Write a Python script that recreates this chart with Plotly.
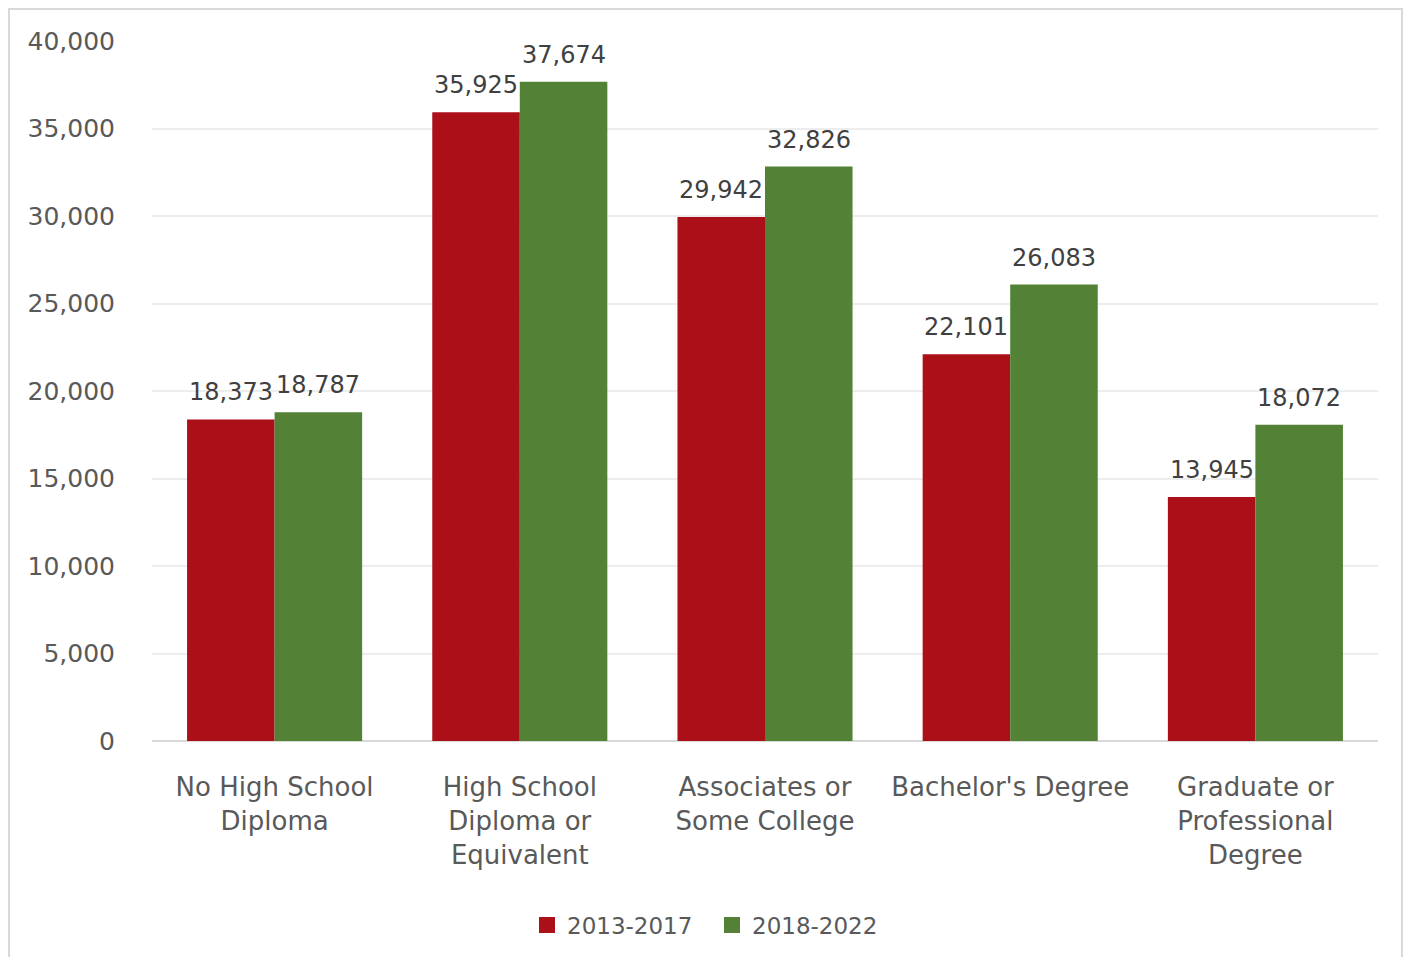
import plotly.graph_objects as go

categories = ["No High School<br>Diploma", "High School<br>Diploma or<br>Equivalent",
              "Associates or<br>Some College", "Bachelor's Degree",
              "Graduate or<br>Professional<br>Degree"]
series_names = ["2013-2017", "2018-2022"]
values_2013_2017 = [18373, 35925, 29942, 22101, 13945]
values_2018_2022 = [18787, 37674, 32826, 26083, 18072]
colors = ["#AB0F18", "#538135"]

FONT = "DejaVu Sans, Open Sans, sans-serif"

# page-pixel layout (body has 8px margin)
OFF = 8
W, H = 1412 - 2 * OFF, 965 - 2 * OFF
L = 152 - OFF
T = 41 - OFF
R = W - (1378 - OFF)
B = H - (742 - OFF)
pw, ph = W - L - R, H - T - B

fig = go.Figure()
annotations = []
bar_off = pw / len(categories) * (1 - 0.286) / 4
for i, (name, vals, col) in enumerate(zip(series_names, [values_2013_2017, values_2018_2022], colors)):
    fig.add_trace(go.Bar(
        x=categories, y=vals, name=name, marker_color=col, marker_line_width=0,
        showlegend=False,
    ))
    for c, v in zip(categories, vals):
        annotations.append(dict(
            x=c, y=v, xref="x", yref="y", text=f"{v:,}", showarrow=False,
            xanchor="center", yanchor="bottom", xshift=(-1 if i == 0 else 1) * bar_off,
            yshift=11, font=dict(family=FONT, size=24, color="#404040"),
        ))
# legend entries with larger square swatches
for name, col in zip(series_names, colors):
    fig.add_trace(go.Scatter(
        x=[None], y=[None], mode="markers", name=name,
        marker=dict(symbol="square", size=16, color=col),
    ))

fig.update_layout(
    width=W, height=H,
    margin=dict(l=L, r=R, t=T, b=B),
    barmode="group", bargap=0.286, bargroupgap=0,
    plot_bgcolor="white", paper_bgcolor="white",
    font=dict(family=FONT, size=24, color="#595959"),
    legend=dict(orientation="h", x=(712 - 152) / pw, xanchor="center", y=(742 - 925) / ph,
                yanchor="middle", font=dict(family=FONT, size=23, color="#595959"),
                itemwidth=30, entrywidth=140, traceorder="normal", itemsizing="trace"),
    xaxis=dict(showgrid=False, ticks="", showline=False, ticklabelstandoff=28,
               tickfont=dict(family=FONT, size=26, color="#595959")),
    yaxis=dict(range=[0, 40000], dtick=5000, tickformat=",", showgrid=True, gridcolor="#EDEDED",
               gridwidth=1.5, zeroline=True, zerolinecolor="#D9D9D9", zerolinewidth=2,
               showline=False, ticklabelstandoff=36,
               tickfont=dict(family=FONT, size=25, color="#595959")),
    annotations=annotations,
    shapes=[dict(type="rect", xref="paper", yref="paper",
                 x0=(1 - L) / pw, x1=(1402 - 152) / pw,
                 y0=(742 - 1000) / ph, y1=(742 - 9) / ph,
                 line=dict(color="#D9D9D9", width=2), fillcolor="rgba(0,0,0,0)", layer="below")],
)

fig.write_html("out.html")
